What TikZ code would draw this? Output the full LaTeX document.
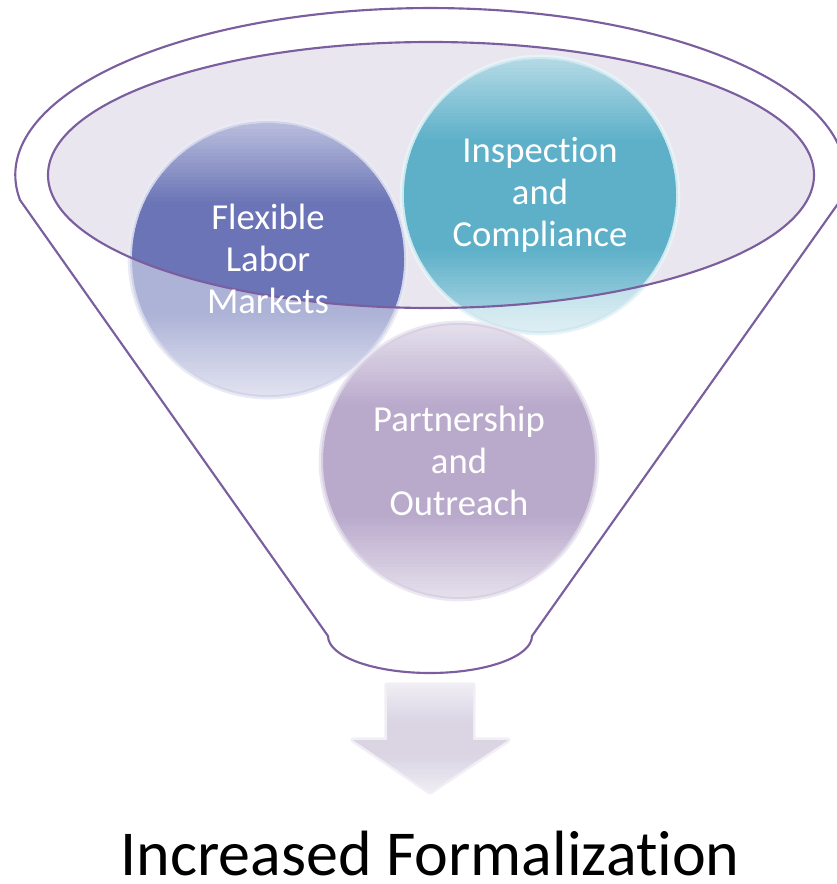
\documentclass[tikz,border=0pt]{standalone}
\usepackage{fontspec}
\setmainfont{Carlito}[Ligatures=NoCommon]
\usepackage{tikz}

\definecolor{rim}{HTML}{7A5E9E}
\definecolor{bowl}{HTML}{E9E6EF}
\definecolor{flexblue}{HTML}{6A74B6}
\definecolor{inspteal}{HTML}{5EB0C9}
\definecolor{partmauve}{HTML}{8064A2}
\definecolor{arrowlav}{HTML}{D8D2E2}

\begin{document}
\begin{tikzpicture}[x=0.75pt, y=-0.75pt,
    rimline/.style={draw=rim, line width=1.6pt},
    ball/.style={align=center, text=white, font=\fontsize{27.5}{31.5}\selectfont},
    result/.style={inner sep=0pt, font=\fontsize{48}{58}\selectfont}]
	\useasboundingbox (0,0) rectangle (836,884);

	\coordinate (FL) at (268,259);
	\coordinate (IC) at (540,195);
	\coordinate (PO) at (459,461);

	% funnel
	\draw[rimline] (20,200) arc[start angle=171.4, end angle=368.6, x radius=415, y radius=167]
		-- (532,636) arc[start angle=0, end angle=180, x radius=102, y radius=37] -- cycle;
	\fill[bowl] (431,175) ellipse[x radius=383, y radius=133];

	% balls, pale outside the bowl (banded gradient, light top and bottom)
	\foreach \n/\c in {FL/flexblue, IC/inspteal, PO/partmauve}{
		\draw[\c!15!white, line width=5pt] (\n) circle[radius=137];
		\begin{scope}[shift={(\n)}]
			\clip (0,0) circle[radius=137];
			\foreach \i in {0,...,79}{
				\pgfmathsetmacro\p{20+35*min(1,(1-abs(2*(\i+0.5)/80-1))/0.6)}
				\fill[\c!\p!white] (-140,{-137+\i*3.425}) rectangle (140,{-136.5+(\i+1)*3.425});
			}
		\end{scope}
		\draw[\c!30!white, line width=1.5pt] (\n) circle[radius=137];
	}
	% balls, full colour inside the bowl
	\begin{scope}
		\clip (431,175) ellipse[x radius=383, y radius=133];
		\foreach \n/\c in {FL/flexblue, IC/inspteal}{
			\begin{scope}[shift={(\n)}]
				\clip (0,0) circle[radius=136];
				\foreach \i in {0,...,79}{
					\pgfmathsetmacro\p{46+54*min(1,(1-abs(2*(\i+0.5)/80-1))/0.6)}
					\fill[\c!\p!white] (-140,{-137+\i*3.425}) rectangle (140,{-136.5+(\i+1)*3.425});
				}
			\end{scope}
		}
	\end{scope}
	\draw[rimline] (431,175) ellipse[x radius=383, y radius=133];

	\node[ball] (FLt) at (FL) {Flexible\\Labor\\Markets};
	\node[ball] (ICt) at (IC) {Inspection\\and\\Compliance};
	\node[ball] (POt) at (PO) {Partnership\\and\\Outreach};

	% arrow
	\draw[arrowlav!35!white, line width=4pt, line join=round]
		(387,685) -- (473,685) -- (473,740) -- (508,740) -- (430,792) -- (353,740) -- (387,740) -- cycle;
	\begin{scope}
		\clip (387,685) -- (473,685) -- (473,740) -- (508,740) -- (430,792) -- (353,740) -- (387,740) -- cycle;
		\foreach \i in {0,...,39}{
			\pgfmathsetmacro\p{40+55*min(1,(1-abs(2*(\i+0.5)/40-1))/0.7)}
			\fill[arrowlav!\p!white] (350,{685+\i*2.7}) rectangle (510,{685.5+(\i+1)*2.7});
		}
	\end{scope}

	\node[result, anchor=base] (IF) at (430,875) {Increased Formalization};
\end{tikzpicture}
\end{document}
